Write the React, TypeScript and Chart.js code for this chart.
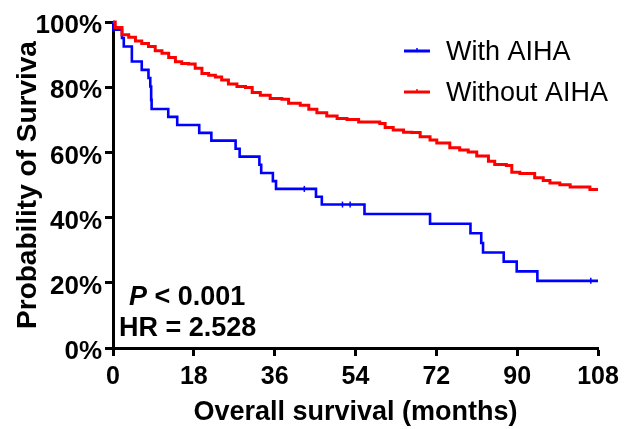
import React, { useEffect, useRef } from 'react';
import { Chart, registerables } from 'chart.js';

Chart.register(...registerables);

const FONT = '"Liberation Sans", Arial, Helvetica, sans-serif';

// Axis ticks
const xTicks = [0, 18, 36, 54, 72, 90, 108];
const yTicks = [0, 20, 40, 60, 80, 100];

// Series labels
const seriesLabels = ['With AIHA', 'Without AIHA'];
const seriesColors = ['#0000FF', '#FF0000'];

// Kaplan-Meier: With AIHA (time in months, survival %)
const withTimes = [0, 0.1, 2.0, 2.4, 4.2, 6.4, 7.9, 8.3, 8.5, 8.6, 12.3, 14.3, 19.2, 21.9, 27.3, 28.2, 32.6, 33.0, 35.6, 36.3, 45.2, 46.5, 56.0, 70.6, 79.6, 82.0, 82.4, 87.0, 89.9, 94.5, 108];
const withSurv = [100, 97.6, 95.1, 92.5, 87.9, 85.3, 82.8, 80.2, 76.1, 73.3, 70.9, 68.4, 66.0, 63.6, 61.1, 58.7, 56.2, 53.7, 51.2, 48.8, 46.4, 44.0, 41.1, 38.1, 35.2, 32.2, 29.3, 26.5, 23.5, 20.6, 20.6];
const withCensorTimes = [42.6, 51.1, 52.8, 106.4];

// Kaplan-Meier: Without AIHA
const withoutTimes = [0, 0.5, 2.0, 3.5, 5.0, 6.4, 7.9, 9.4, 10.9, 12.4, 13.9, 15.3, 16.8, 18.3, 19.8, 21.3, 22.8, 24.2, 25.7, 27.6, 29.5, 31.0, 32.8, 35.0, 37.6, 39.1, 41.7, 43.6, 45.4, 47.6, 49.9, 52.1, 54.7, 59.4, 60.6, 62.4, 64.7, 66.5, 68.4, 70.6, 72.1, 75.0, 77.2, 79.1, 81.0, 83.6, 85.0, 87.6, 88.8, 90.6, 93.9, 95.8, 97.3, 99.5, 101.8, 106.2, 108];
const withoutSurv = [100, 98.3, 96.1, 95.3, 94.2, 93.4, 92.5, 91.2, 90.4, 89.1, 87.8, 87.3, 87.1, 85.8, 84.2, 83.7, 83.1, 82.2, 81.0, 80.2, 79.9, 78.4, 77.5, 76.5, 76.3, 75.1, 74.5, 73.2, 72.2, 71.2, 70.4, 70.1, 69.3, 68.9, 67.6, 66.9, 66.2, 66.1, 64.8, 63.8, 62.9, 61.4, 60.7, 60.1, 58.9, 57.3, 56.3, 56.0, 53.9, 53.5, 52.2, 51.4, 50.6, 50.1, 49.4, 48.6, 48.6];

// Annotation text
const pLabel = 'P';
const pText = ' < 0.001';
const hrText = 'HR = 2.528';
const xTitle = 'Overall survival (months)';
const yTitle = 'Probability of Surviva';

function stepValue(times: number[], surv: number[], t: number): number {
  let v = surv[0];
  for (let i = 0; i < times.length; i++) {
    if (times[i] <= t) v = surv[i];
  }
  return v;
}

const overlayPlugin = {
  id: 'overlay',
  afterDraw(chart: any) {
    const ctx = chart.ctx;
    const ca = chart.chartArea;
    ctx.save();
    // Legend
    const rows = [ca.top + 29, ca.top + 70];
    seriesLabels.forEach((lab, i) => {
      const y = rows[i];
      const x0 = ca.right - 194;
      ctx.strokeStyle = seriesColors[i];
      ctx.lineWidth = 3;
      ctx.beginPath();
      ctx.moveTo(x0, y);
      ctx.lineTo(x0 + 26, y);
      ctx.stroke();
      ctx.lineWidth = 1.5;
      ctx.beginPath();
      ctx.moveTo(x0 + 13, y - 3);
      ctx.lineTo(x0 + 13, y);
      ctx.stroke();
      ctx.fillStyle = '#000';
      ctx.font = `27px ${FONT}`;
      ctx.textAlign = 'left';
      ctx.textBaseline = 'middle';
      ctx.fillText(lab, ca.right - 152, y + 1.5);
    });
    // Annotations
    ctx.fillStyle = '#000';
    ctx.textBaseline = 'alphabetic';
    ctx.textAlign = 'left';
    ctx.font = `italic bold 27px ${FONT}`;
    const px = ca.left + 16;
    const py = ca.bottom - 43;
    ctx.fillText(pLabel, px, py);
    const pw = ctx.measureText(pLabel).width;
    ctx.font = `bold 27px ${FONT}`;
    ctx.fillText(pText, px + pw, py);
    ctx.fillText(hrText, ca.left + 6, ca.bottom - 12);
    ctx.restore();
  },
};

export default function App() {
  const ref = useRef<HTMLCanvasElement>(null);
  useEffect(() => {
    document.body.style.margin = '0';
    const canvas = ref.current;
    if (!canvas) return;
    const withData = withTimes.map((t, i) => ({ x: t, y: withSurv[i] }));
    const withoutData = withoutTimes.map((t, i) => ({ x: t, y: withoutSurv[i] }));
    const censorData = withCensorTimes.map((t) => ({ x: t, y: stepValue(withTimes, withSurv, t) }));
    const chart = new Chart(canvas, {
      type: 'line',
      data: {
        datasets: [
          {
            label: seriesLabels[1],
            data: withoutData,
            borderColor: seriesColors[1],
            borderWidth: 3,
            stepped: true,
            pointRadius: 0,
            fill: false,
            clip: 10,
          },
          {
            label: seriesLabels[0],
            data: withData,
            borderColor: seriesColors[0],
            borderWidth: 2.6,
            stepped: true,
            pointRadius: 0,
            fill: false,
            clip: 10,
          },
          {
            label: 'censor',
            data: censorData,
            showLine: false,
            pointStyle: 'line',
            rotation: 90,
            pointRadius: 3,
            borderColor: seriesColors[0],
            pointBorderColor: seriesColors[0],
            pointBorderWidth: 1.5,
            clip: 10,
          } as any,
        ],
      },
      options: {
        responsive: false,
        animation: false,
        events: [],
        layout: { padding: { left: 0, right: 27, top: 22, bottom: 0 } },
        plugins: { legend: { display: false }, tooltip: { enabled: false } },
        scales: {
          x: {
            type: 'linear',
            min: 0,
            max: 108,
            afterFit: (s: any) => { s.height = 81; },
            afterBuildTicks: (s: any) => { s.ticks = xTicks.map((v) => ({ value: v })); },
            ticks: { color: '#000', font: { family: FONT, size: 25, weight: 'bold' }, padding: 6, autoSkip: false, maxRotation: 0 },
            grid: { drawOnChartArea: false, drawTicks: true, tickLength: 8, tickWidth: 3, tickColor: '#000' },
            border: { display: true, color: '#000', width: 3 },
            title: { display: true, text: xTitle, color: '#000', font: { family: FONT, size: 27, weight: 'bold' }, padding: { top: 0, bottom: 0 } },
          },
          y: {
            min: 0,
            max: 100,
            afterFit: (s: any) => { s.width = 113; },
            afterBuildTicks: (s: any) => { s.ticks = yTicks.map((v) => ({ value: v })); },
            ticks: { color: '#000', font: { family: FONT, size: 26, weight: 'bold' }, padding: 3, labelOffset: 4, callback: (v: any) => `${v}%` },
            grid: { drawOnChartArea: false, drawTicks: true, tickLength: 8, tickWidth: 3, tickColor: '#000' },
            border: { display: true, color: '#000', width: 3 },
            title: { display: true, text: yTitle, color: '#000', font: { family: FONT, size: 28, weight: 'bold' }, padding: { top: 11, bottom: 0 } },
          },
        },
      },
      plugins: [overlayPlugin],
    } as any);
    return () => chart.destroy();
  }, []);
  return (
    <div style={{ width: 625, height: 429 }}>
      <canvas ref={ref} width={625} height={429} style={{ display: 'block', width: 625, height: 429 }} />
    </div>
  );
}
